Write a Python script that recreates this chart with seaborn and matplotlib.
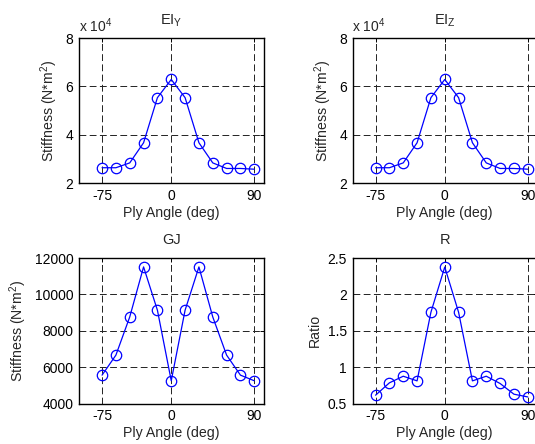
import matplotlib
matplotlib.use("Agg")
import matplotlib.pyplot as plt
import seaborn as sns
import numpy as np
import pandas as pd
from matplotlib.ticker import FuncFormatter

# ---- data ----
ply_angle = [-75, -60, -45, -30, -15, 0, 15, 30, 45, 60, 75, 90]
ei_y = [26500, 26500, 28500, 36800, 55400, 62900, 55400, 36800, 28500, 26200, 26200, 25900]
ei_z = [26500, 26500, 28500, 36800, 55400, 62900, 55400, 36800, 28500, 26200, 26200, 25900]
gj = [5560, 6660, 8760, 11510, 9130, 5250, 9130, 11510, 8760, 6660, 5560, 5250]
ratio = [0.614, 0.784, 0.875, 0.811, 1.754, 2.376, 1.754, 0.811, 0.875, 0.775, 0.628, 0.59]

x_ticks = [-75, 0, 90]
titles = ["EI$_Y$", "EI$_Z$", "GJ", "R"]
ylabels = ["Stiffness (N*m$^2$)", "Stiffness (N*m$^2$)", "Stiffness (N*m$^2$)", "Ratio"]
xlabel = "Ply Angle (deg)"

sns.set_style("white")
plt.rcParams["font.family"] = ["Liberation Sans", "DejaVu Sans"]
plt.rcParams["mathtext.fontset"] = "custom"
plt.rcParams["mathtext.rm"] = "Liberation Sans"
plt.rcParams["mathtext.it"] = "Liberation Sans:italic"
plt.rcParams["mathtext.default"] = "regular"
plt.rcParams["axes.unicode_minus"] = False

fig = plt.figure(figsize=(5.35, 4.44), dpi=100)
W, H = 535.0, 444.0
axw = 184.5 / W
axh = 145.5 / H
positions = [
    (79 / W, 1 - 183.5 / H),
    (352.5 / W, 1 - 183.5 / H),
    (79 / W, 1 - 403.5 / H),
    (352.5 / W, 1 - 403.5 / H),
]

series = [
    (np.array(ei_y) / 1e4, [2, 4, 6, 8], (2, 8), True),
    (np.array(ei_z) / 1e4, [2, 4, 6, 8], (2, 8), True),
    (np.array(gj), [4000, 6000, 8000, 10000, 12000], (4000, 12000), False),
    (np.array(ratio), [0.5, 1, 1.5, 2, 2.5], (0.5, 2.5), False),
]

for i, (pos, (vals, yt, ylim, sci)) in enumerate(zip(positions, series)):
    ax = fig.add_axes([pos[0], pos[1], axw, axh])
    df = pd.DataFrame({"angle": ply_angle, "val": vals})
    sns.lineplot(data=df, x="angle", y="val", ax=ax, color="blue",
                 marker="o", markersize=7.5, markerfacecolor="none",
                 markeredgecolor="blue", markeredgewidth=0.9, linewidth=0.9)
    ax.set_xlim(-100, 100)
    ax.set_ylim(*ylim)
    ax.set_xticks(x_ticks)
    ax.set_yticks(yt)
    ax.yaxis.set_major_formatter(FuncFormatter(lambda v, p: "%g" % v))
    ax.grid(True, linestyle=(0, (7, 3.5)), color="#222222", linewidth=0.7)
    for s in ax.spines.values():
        s.set_visible(True)
        s.set_color("black")
        s.set_linewidth(1.0)
    ax.tick_params(direction="in", length=3, width=0.7, top=True, right=True,
                   labelsize=10, pad=4, colors="black")
    ax.set_xlabel(xlabel, fontsize=10.2, labelpad=2)
    ax.set_ylabel(ylabels[i], fontsize=10.2, labelpad=4)
    ax.set_title(titles[i], fontsize=10.5, pad=10)
    if sci:
        ax.text(0.0, 1.02, "x 10$^4$", transform=ax.transAxes,
                ha="left", va="bottom", fontsize=10)

fig.savefig("out.png", dpi=100)
